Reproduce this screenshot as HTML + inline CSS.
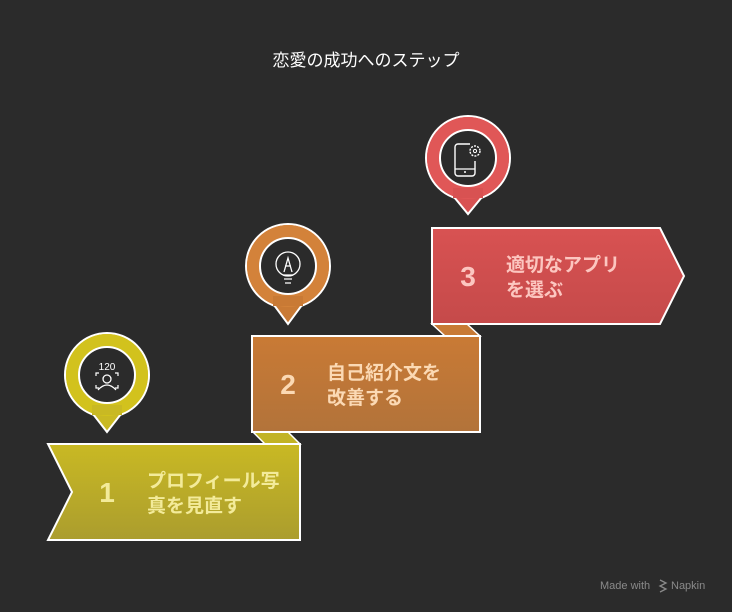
<!DOCTYPE html>
<html><head><meta charset="utf-8"><style>
body{margin:0;background:#2b2b2b;}
svg{display:block}
text{font-family:"Liberation Sans","Noto Sans CJK JP",sans-serif;}
</style></head><body>
<svg width="732" height="612" viewBox="0 0 732 612">
<defs>
<linearGradient id="gy" x1="0" y1="0" x2="0" y2="1"><stop offset="0" stop-color="#c9b923"/><stop offset="1" stop-color="#ab9d2e"/></linearGradient>
<linearGradient id="go" x1="0" y1="0" x2="0" y2="1"><stop offset="0" stop-color="#c97a35"/><stop offset="1" stop-color="#b2733a"/></linearGradient>
<linearGradient id="gr" x1="0" y1="0" x2="0" y2="1"><stop offset="0" stop-color="#d85252"/><stop offset="1" stop-color="#c54a4a"/></linearGradient>
</defs>
<rect width="732" height="612" fill="#2b2b2b"/>
<text x="366" y="66" fill="#fff" font-size="17" text-anchor="middle">恋愛の成功へのステップ</text>

<polygon points="253,432 288,432 300,444 265,444" fill="#c2b325" stroke="#fff" stroke-width="1.5"/>
<polygon points="432,324 467,324 480,336 445,336" fill="#c87a35" stroke="#fff" stroke-width="1.5"/>

<polygon points="48,444 300,444 300,540 48,540 72,492" fill="url(#gy)" stroke="#fff" stroke-width="2"/>
<text x="107" y="502" fill="#f3eb9a" font-size="28" font-weight="bold" text-anchor="middle">1</text>
<text x="147" y="487" fill="#f3eb9a" font-size="19" font-weight="bold">プロフィール写</text>
<text x="147" y="512" fill="#f3eb9a" font-size="19" font-weight="bold">真を見直す</text>

<rect x="252" y="336" width="228" height="96" fill="url(#go)" stroke="#fff" stroke-width="2"/>
<text x="288" y="394" fill="#fbd9b4" font-size="28" font-weight="bold" text-anchor="middle">2</text>
<text x="327" y="379" fill="#fbd9b4" font-size="19" font-weight="bold">自己紹介文を</text>
<text x="327" y="404" fill="#fbd9b4" font-size="19" font-weight="bold">改善する</text>

<polygon points="432,228 660,228 684,276 660,324 432,324" fill="url(#gr)" stroke="#fff" stroke-width="2"/>
<text x="468" y="286" fill="#fcc6c0" font-size="28" font-weight="bold" text-anchor="middle">3</text>
<text x="506" y="271" fill="#fcc6c0" font-size="19" font-weight="bold">適切なアプリ</text>
<text x="506" y="296" fill="#fcc6c0" font-size="19" font-weight="bold">を選ぶ</text>

<g>
<circle cx="107" cy="375" r="42" fill="#d2c21d" stroke="#fff" stroke-width="2"/>
<polygon points="93,414 107,432 121,414" fill="#c9b923" stroke="#fff" stroke-width="2"/>
<circle cx="107" cy="375" r="41" fill="#d2c21d"/>
<rect x="92" y="405" width="30" height="10" fill="#c9b923"/>
<circle cx="107" cy="375" r="28" fill="#2b2b2b" stroke="#fff" stroke-width="2"/>
<text x="107" y="370" fill="#fff" font-size="10" text-anchor="middle">120</text>
<circle cx="107" cy="379" r="4" fill="none" stroke="#fff" stroke-width="1.3"/>
<path d="M98,390 Q107,380 116,390" fill="none" stroke="#fff" stroke-width="1.3"/>
<path d="M96,376 v-3 h3 M118,376 v-3 h-3 M96,385 v3 h3 M118,385 v3 h-3" fill="none" stroke="#fff" stroke-width="1.2"/>
</g>
<g>
<circle cx="288" cy="266" r="42" fill="#d3823a" stroke="#fff" stroke-width="2"/>
<polygon points="274,305 288,324 302,305" fill="#c97a35" stroke="#fff" stroke-width="2"/>
<circle cx="288" cy="266" r="41" fill="#d3823a"/>
<rect x="273" y="296" width="30" height="10" fill="#c97a35"/>
<circle cx="288" cy="266" r="28" fill="#2b2b2b" stroke="#fff" stroke-width="2"/>
<circle cx="288" cy="264" r="12" fill="none" stroke="#fff" stroke-width="1.3"/>
<path d="M283,275 h10 M284,279 h8 M285,283 h6 M284,272 l4,-14 4,14 M285,266 h6" fill="none" stroke="#fff" stroke-width="1.3"/>
</g>
<g>
<circle cx="468" cy="158" r="42" fill="#e05757" stroke="#fff" stroke-width="2"/>
<polygon points="454,197 468,214 482,197" fill="#d85252" stroke="#fff" stroke-width="2"/>
<circle cx="468" cy="158" r="41" fill="#e05757"/>
<rect x="453" y="188" width="30" height="10" fill="#d85252"/>
<circle cx="468" cy="158" r="28" fill="#2b2b2b" stroke="#fff" stroke-width="2"/>
<path d="M470,144 h-12 a3,3 0 0 0 -3,3 v26 a3,3 0 0 0 3,3 h14 a3,3 0 0 0 3,-3 v-12" fill="none" stroke="#fff" stroke-width="1.4"/>
<path d="M455,169 h20" stroke="#fff" stroke-width="1.2"/>
<circle cx="465" cy="172" r="1" fill="#fff"/>
<circle cx="475" cy="151" r="5" fill="none" stroke="#fff" stroke-width="1.4" stroke-dasharray="2 1.2"/>
<circle cx="475" cy="151" r="1.6" fill="none" stroke="#fff" stroke-width="1"/>
</g>

<text x="600" y="589" fill="#8a8a8a" font-size="11">Made with</text>
<path d="M660,580 l6,3 -6,3 6,3 -6,3" fill="none" stroke="#8a8a8a" stroke-width="1.3"/>
<text x="671" y="589" fill="#8a8a8a" font-size="11">Napkin</text>
</svg>
</body></html>
